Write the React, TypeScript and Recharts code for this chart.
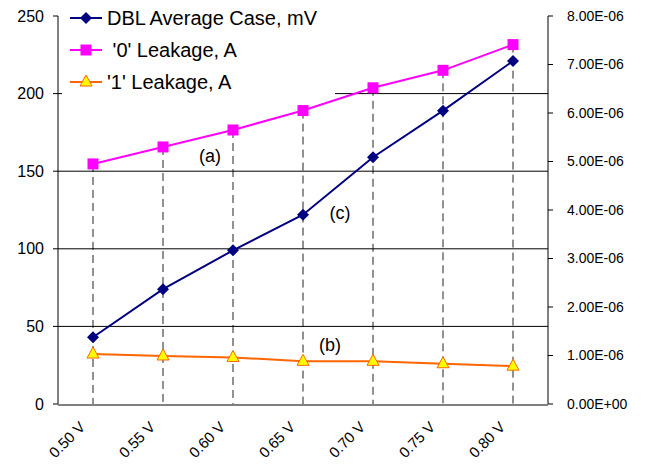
import {
  ComposedChart,
  Line,
  Bar,
  XAxis,
  YAxis,
  ReferenceLine,
  ReferenceDot,
  Legend,
} from "recharts";

document.body.style.margin = "0";

const VOLTAGES = ["0.50 V", "0.55 V", "0.60 V", "0.65 V", "0.70 V", "0.75 V", "0.80 V"];
const DBL_MV = [43, 74, 99, 122, 159, 189, 221];
const LEAK0_A = [4.95e-6, 5.3e-6, 5.65e-6, 6.05e-6, 6.52e-6, 6.88e-6, 7.41e-6];
const LEAK1_A = [1.03e-6, 0.99e-6, 0.96e-6, 0.88e-6, 0.88e-6, 0.83e-6, 0.78e-6];

const MV_TICKS = [0, 50, 100, 150, 200, 250];
const GRID_MV = [50, 100, 150, 200];
const AMP_TICKS = [0, 1e-6, 2e-6, 3e-6, 4e-6, 5e-6, 6e-6, 7e-6, 8e-6];
const BOUNDARY_TICKS = [0, 1, 2, 3, 4, 5, 6, 7];

const NOTES = [
  { text: "(a)", at: "0.60 V", mv: 160, dx: -23 },
  { text: "(c)", at: "0.65 V", mv: 123, dx: 37 },
  { text: "(b)", at: "0.65 V", mv: 38, dx: 27 },
];

const FONT = "'Liberation Sans', Arial, sans-serif";
const NAVY = "#000080";
const PINK = "#FF00FF";
const ORANGE = "#FF6600";

const data = VOLTAGES.map((v, i) => ({
  v,
  dbl: DBL_MV[i],
  leak0: LEAK0_A[i],
  leak1: LEAK1_A[i],
}));

function fmtAmp(v: number) {
  if (v === 0) return "0.00E+00";
  const [m, e] = v.toExponential(2).split("e");
  const n = parseInt(e, 10);
  return `${m}E${n < 0 ? "-" : "+"}${String(Math.abs(n)).padStart(2, "0")}`;
}

function Diamond({ cx, cy }: any) {
  if (cx == null || cy == null) return null;
  return (
    <polygon
      points={`${cx},${cy - 6} ${cx + 6},${cy} ${cx},${cy + 6} ${cx - 6},${cy}`}
      fill={NAVY}
    />
  );
}

function Square({ cx, cy }: any) {
  if (cx == null || cy == null) return null;
  return <rect x={cx - 5.5} y={cy - 5.5} width={11} height={11} fill={PINK} />;
}

function Triangle({ cx, cy }: any) {
  if (cx == null || cy == null) return null;
  return (
    <polygon
      points={`${cx},${cy - 7} ${cx + 6},${cy + 4} ${cx - 6},${cy + 4}`}
      fill="#FFFF00"
      stroke={ORANGE}
      strokeWidth={1}
    />
  );
}

const MARKERS: Record<string, (p: any) => any> = {
  dbl: Diamond,
  leak0: Square,
  leak1: Triangle,
};
const LEGEND_ORDER = ["DBL Average Case, mV", " '0' Leakage, A", "'1' Leakage, A"];

function DropLine(p: any) {
  const cx = p.x + p.width / 2;
  return (
    <line
      x1={cx}
      y1={p.y}
      x2={cx}
      y2={p.y + p.height}
      stroke="#222"
      strokeWidth={1}
      strokeDasharray="8 5"
    />
  );
}

function VoltTick({ x, y, payload }: any) {
  const tx = x - 7;
  const ty = y + 24;
  return (
    <text
      x={tx}
      y={ty}
      transform={`rotate(-45, ${tx}, ${ty})`}
      textAnchor="end"
      fontSize={15}
      fontFamily={FONT}
      fill="#000"
    >
      {payload.value}
    </text>
  );
}

function LegendBox({ payload }: any) {
  const items = (payload || [])
    .filter((p: any) => LEGEND_ORDER.includes(p.value))
    .sort((a: any, b: any) => LEGEND_ORDER.indexOf(a.value) - LEGEND_ORDER.indexOf(b.value));
  return (
    <div style={{ paddingTop: 2, paddingLeft: 8 }}>
      {items.map((item: any) => {
        const Marker = MARKERS[item.dataKey];
        return (
          <div
            key={item.value}
            style={{ display: "flex", alignItems: "center", height: 32 }}
          >
            <svg width={32} height={16} style={{ marginRight: 5 }}>
              <line x1={0} y1={8} x2={32} y2={8} stroke={item.color} strokeWidth={2} />
              <Marker cx={16} cy={8} />
            </svg>
            <span
              style={{
                fontFamily: FONT,
                fontSize: 20,
                color: "#000",
                whiteSpace: "pre",
              }}
            >
              {item.value}
            </span>
          </div>
        );
      })}
    </div>
  );
}

export default function App() {
  return (
    <ComposedChart
      width={647}
      height={465}
      data={data}
      margin={{ top: 16, right: 0, bottom: 59, left: 0 }}
    >
      <XAxis
        xAxisId="edges"
        type="number"
        domain={[0, 7]}
        ticks={BOUNDARY_TICKS}
        allowDataOverflow
        height={1}
        tick={false}
        tickSize={5}
        stroke="#000"
      />
      <XAxis
        dataKey="v"
        type="category"
        height={1}
        axisLine={false}
        tickLine={false}
        tickSize={0}
        tickMargin={0}
        interval={0}
        tick={<VoltTick />}
      />
      <YAxis
        yAxisId="mv"
        domain={[0, 250]}
        ticks={MV_TICKS}
        width={58}
        tickSize={5}
        tickMargin={9}
        stroke="#000"
        tick={{ fontSize: 16, fontFamily: FONT, fill: "#000" }}
      />
      <YAxis
        yAxisId="amp"
        orientation="right"
        domain={[0, 8e-6]}
        ticks={AMP_TICKS}
        width={99}
        tickSize={5}
        tickMargin={14}
        stroke="#000"
        tickFormatter={fmtAmp}
        tick={{ fontSize: 14, fontFamily: FONT, fill: "#000", textAnchor: "start" }}
      />
      {GRID_MV.map((g) => (
        <ReferenceLine key={g} yAxisId="mv" y={g} stroke="#000" strokeWidth={1} />
      ))}
      <Bar
        yAxisId="amp"
        dataKey="leak0"
        name="drop"
        shape={<DropLine />}
        legendType="none"
        isAnimationActive={false}
      />
      <Line
        yAxisId="amp"
        dataKey="leak1"
        name="'1' Leakage, A"
        type="linear"
        stroke={ORANGE}
        strokeWidth={2}
        dot={(p: any) => <Triangle key={p.index} cx={p.cx} cy={p.cy} />}
        activeDot={false}
        isAnimationActive={false}
      />
      <Line
        yAxisId="amp"
        dataKey="leak0"
        name=" '0' Leakage, A"
        type="linear"
        stroke={PINK}
        strokeWidth={2}
        dot={(p: any) => <Square key={p.index} cx={p.cx} cy={p.cy} />}
        activeDot={false}
        isAnimationActive={false}
      />
      <Line
        yAxisId="mv"
        dataKey="dbl"
        name="DBL Average Case, mV"
        type="linear"
        stroke={NAVY}
        strokeWidth={2}
        dot={(p: any) => <Diamond key={p.index} cx={p.cx} cy={p.cy} />}
        activeDot={false}
        isAnimationActive={false}
      />
      {NOTES.map((n) => (
        <ReferenceDot
          key={n.text}
          yAxisId="mv"
          x={n.at}
          y={n.mv}
          r={0}
          stroke="none"
          fill="none"
          label={{
            value: n.text,
            position: "center",
            dx: n.dx,
            fontSize: 18,
            fontFamily: FONT,
            fill: "#000",
          }}
        />
      ))}
      <Legend
        layout="vertical"
        align="center"
        verticalAlign="middle"
        content={(props: any) => <LegendBox payload={props.payload} />}
        wrapperStyle={{
          top: 0,
          left: 62,
          width: 273,
          height: 98,
          background: "#fff",
        }}
      />
    </ComposedChart>
  );
}
